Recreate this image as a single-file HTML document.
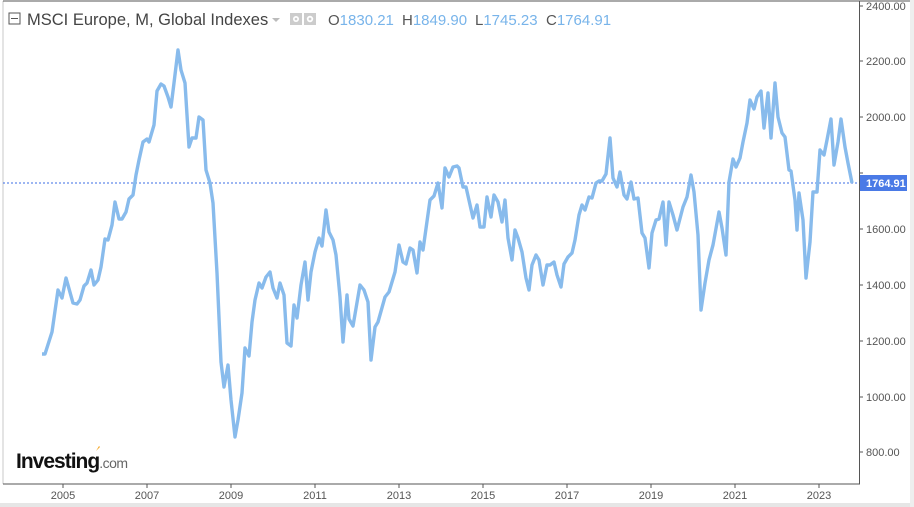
<!DOCTYPE html>
<html><head><meta charset="utf-8"><style>
html,body{margin:0;padding:0;background:#fff;}
body{width:914px;height:507px;overflow:hidden;position:relative;font-family:"Liberation Sans",sans-serif;}
</style></head><body>
<svg width="914" height="507" viewBox="0 0 914 507" xmlns="http://www.w3.org/2000/svg" style="position:absolute;left:0;top:0">
<rect x="0" y="0" width="914" height="507" fill="#fff"/>
<rect x="0" y="503" width="914" height="4" fill="#e6e6e6"/>
<rect x="910" y="0" width="4" height="507" fill="#eeeeee"/>
<line x1="3" y1="1" x2="3" y2="484" stroke="#c8c8c8"/>
<line x1="3" y1="1" x2="910" y2="1" stroke="#555"/>
<line x1="3" y1="484" x2="860" y2="484" stroke="#555"/>
<line x1="859.5" y1="1" x2="859.5" y2="484" stroke="#555"/>
<g stroke="#555">
<line x1="859" y1="6" x2="863" y2="6"/><line x1="859" y1="61" x2="863" y2="61"/><line x1="859" y1="117" x2="863" y2="117"/><line x1="859" y1="173" x2="863" y2="173"/><line x1="859" y1="229" x2="863" y2="229"/><line x1="859" y1="285" x2="863" y2="285"/><line x1="859" y1="341" x2="863" y2="341"/><line x1="859" y1="397" x2="863" y2="397"/><line x1="859" y1="452" x2="863" y2="452"/>
<line x1="63" y1="484" x2="63" y2="488"/><line x1="147" y1="484" x2="147" y2="488"/><line x1="231" y1="484" x2="231" y2="488"/><line x1="315" y1="484" x2="315" y2="488"/><line x1="399" y1="484" x2="399" y2="488"/><line x1="483" y1="484" x2="483" y2="488"/><line x1="567" y1="484" x2="567" y2="488"/><line x1="651" y1="484" x2="651" y2="488"/><line x1="735" y1="484" x2="735" y2="488"/><line x1="819" y1="484" x2="819" y2="488"/>
</g>
<g font-size="11" fill="#555" font-family="Liberation Sans, sans-serif">
<text x="866" y="10">2400.00</text><text x="866" y="65">2200.00</text><text x="866" y="121">2000.00</text><text x="866" y="233">1600.00</text><text x="866" y="289">1400.00</text><text x="866" y="345">1200.00</text><text x="866" y="401">1000.00</text><text x="866" y="456">800.00</text>
</g>
<g font-size="11" fill="#555" text-anchor="middle" font-family="Liberation Sans, sans-serif">
<text x="63" y="499">2005</text><text x="147" y="499">2007</text><text x="231" y="499">2009</text><text x="315" y="499">2011</text><text x="399" y="499">2013</text><text x="483" y="499">2015</text><text x="567" y="499">2017</text><text x="651" y="499">2019</text><text x="735" y="499">2021</text><text x="819" y="499">2023</text>
</g>
<line x1="3" y1="183" x2="859" y2="183" stroke="#3b6ee6" stroke-width="1" stroke-dasharray="2,2"/>
<rect x="860" y="175" width="47" height="16" fill="#4a7ae6"/>
<text x="866" y="187" font-size="11" font-weight="bold" fill="#fff">1764.91</text>
<polyline fill="none" stroke="#88bbec" stroke-width="3.4" stroke-linejoin="round" points="42,354 45,354 52,332 58,290 62,298 66,278 73,303 77,304 80,300 84,286 87,283 91,270 94,285 98,280 101,267 105,239 108,240 112,225 115,202 119,219 122,219 126,212 129,199 133,195 136,175 139,160 143,142 147,139 149,142 154,125 157,91 161,84 164,86 168,97 171,107 174,83 178,50 181,70 185,83 189,147 192,138 196,138 199,117 203,120 206,170 210,183 213,203 217,273 221,362 224,387 228,365 231,400 235,437 238,420 242,393 245,348 249,356 252,322 255,300 259,283 262,288 266,277 270,272 273,288 277,298 280,283 284,295 287,343 291,346 294,305 297,318 301,285 305,262 308,300 311,272 315,252 319,238 322,246 326,210 329,232 333,240 336,255 340,297 343,342 347,295 349,319 353,326 360,285 364,290 368,302 371,360 375,327 378,322 385,297 389,292 395,272 399,245 403,262 406,264 410,248 413,250 417,273 420,242 423,250 430,200 434,196 438,183 442,208 445,168 449,177 453,167 457,166 459,168 463,187 466,187 473,218 477,205 480,227 484,227 487,197 491,217 494,195 498,202 502,222 505,200 508,238 512,260 515,230 518,238 522,252 526,278 529,290 532,265 536,255 539,260 543,285 547,265 550,265 554,262 557,275 561,287 564,264 568,257 572,253 575,240 579,215 582,205 585,210 589,197 592,198 596,183 599,181 602,181 606,174 610,138 613,178 617,187 620,172 624,195 627,199 631,182 634,199 638,198 642,233 645,238 649,268 652,233 656,220 659,219 663,202 666,245 669,202 673,215 677,230 683,207 687,197 691,175 694,192 698,235 701,310 705,283 709,260 713,245 719,212 722,228 726,255 729,182 733,159 736,167 740,158 743,142 747,123 750,100 754,109 757,97 761,91 764,128 768,93 771,138 775,83 778,117 782,133 785,137 789,170 791,171 795,200 797,230 799,193 803,220 806,278 810,242 813,192 817,192 820,150 824,155 827,140 831,119 834,165 838,142 841,119 845,147 848,163 852,183"/>
<rect x="9" y="13" width="11" height="11" fill="none" stroke="#555" stroke-width="1"/>
<line x1="11" y1="18.5" x2="18" y2="18.5" stroke="#555"/>
<text x="27" y="25" font-size="16.5" fill="#444">MSCI Europe, M, Global Indexes</text>
<path d="M272 18 l4 4 l4 -4z" fill="#bbb"/>
<rect x="290" y="13" width="12" height="12" fill="#ccc"/><circle cx="296" cy="19" r="3" fill="#fff"/><circle cx="296" cy="19" r="1.3" fill="#ccc"/>
<rect x="304" y="13" width="12" height="12" fill="#ccc"/><circle cx="310" cy="19" r="3.2" fill="#fff"/><circle cx="310" cy="19" r="1.4" fill="#ccc"/>
<g font-size="15">
<text x="328" y="25" fill="#555">O<tspan fill="#78b4ea">1830.21</tspan></text>
<text x="402" y="25" fill="#555">H<tspan fill="#78b4ea">1849.90</tspan></text>
<text x="475" y="25" fill="#555">L<tspan fill="#78b4ea">1745.23</tspan></text>
<text x="546" y="25" fill="#555">C<tspan fill="#78b4ea">1764.91</tspan></text>
</g>
<text x="16" y="468" font-size="21" font-weight="bold" fill="#111" letter-spacing="-1">Investing<tspan font-size="14" font-weight="normal" fill="#666" letter-spacing="-0.5">.com</tspan></text>
<path d="M96 451 l3 -5 l1 1 z" fill="#f5a623"/>
</svg>
</body></html>
